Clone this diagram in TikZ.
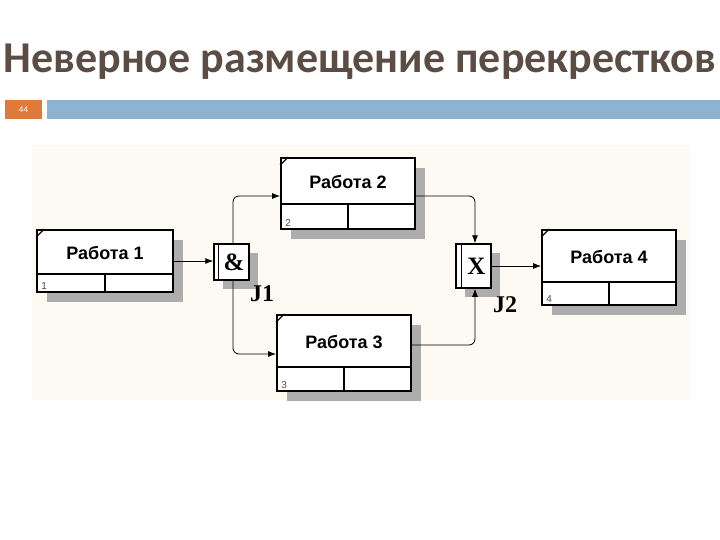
\documentclass[tikz,border=0pt]{standalone}
\usepackage{fontspec}
\setmainfont{Liberation Serif}
\newfontfamily\titlefont{Carlito}
\newfontfamily\boxfont{Liberation Sans}
\usetikzlibrary{arrows.meta, positioning, calc, shadows}
\definecolor{titlegray}{RGB}{92,76,70}
\definecolor{slideorange}{RGB}{224,122,58}
\definecolor{slideblue}{RGB}{141,179,211}
\definecolor{paper}{RGB}{253,250,243}
\tikzset{
    work/.style={
        draw,
        line width=1.8pt,
        fill=white,
        inner sep=0pt,
        general shadow={fill=black!32, shadow xshift=10pt, shadow yshift=-10pt}
    },
    junction/.style={
        draw,
        line width=1.5pt,
        fill=white,
        minimum width=35pt,
        inner sep=0pt,
        general shadow={fill=black!32, shadow xshift=9pt, shadow yshift=-9pt}
    },
    divider/.style={line width=1.8pt},
    worktitle/.style={font=\boxfont\bfseries\fontsize{18}{20}\selectfont},
    worknum/.style={font=\boxfont\fontsize{10}{11}\selectfont, text=black!70, inner sep=1pt},
    jsign/.style={font=\bfseries\fontsize{25}{26}\selectfont},
    jlabel/.style={font=\bfseries\fontsize{24}{26}\selectfont},
    line/.style={-{Latex[length=8pt, width=6pt]}, line width=0.8pt, rounded corners=6pt}
}
\begin{document}
\begin{tikzpicture}[x=1pt, y=-1pt]
\useasboundingbox[fill=white] (0,0) rectangle (720,540);

% slide header
\node[anchor=base, font=\titlefont\bfseries\fontsize{44}{46}\selectfont, text=titlegray] (title) at (360,73) {Неверное размещение перекрестков};
\node[fill=slideorange, minimum width=37pt, minimum height=19pt, inner sep=0pt, text=white, font=\titlefont\fontsize{9}{10}\selectfont] (page) at (23.5,109.5) {44};
\node[fill=slideblue, minimum width=673pt, minimum height=19pt, inner sep=0pt] (bar) at (383.5,109.5) {};

\fill[paper] (32,145) rectangle (690,400);

% works
\foreach \n/\cx/\cy/\bw/\bh/\bd in {1/105/261/136/62/19, 2/348/193.5/134/71/26, 3/344/353/134/76/25, 4/609/267.5/134/75/24}{
    \node[work, minimum width=\bw, minimum height=\bh] (w\n) at (\cx,\cy) {};
    \draw[divider] ($(w\n.south west)+(0,-\bd)$) -- ($(w\n.south east)+(0,-\bd)$);
    \draw[divider] (w\n.south) -- ++(0,-\bd);
    \draw[line width=1.2pt] ($(w\n.north west)+(0,8)$) -- ($(w\n.north west)+(8,0)$);
    \node[worktitle] at ($(w\n.north)+(0,{(\bh-\bd)/2+2})$) {Работа \n};
    \node[worknum, anchor=south west] at ($(w\n.south west)+(4,-2)$) {\n};
}

% junctions
\node[junction, minimum height=36pt] (j1) at (231.5,262) {};
\draw[line width=1pt] ($(j1.south west)+(5,0)$) -- ($(j1.north west)+(5,0)$);
\node[jsign] at ($(j1.center)+(2.5,0)$) {\&};
\node[jlabel] (j1lab) at (262,294) {J1};

\node[junction, minimum height=44pt] (j2) at (473.5,266) {};
\draw[line width=1pt] ($(j2.south west)+(6,0)$) -- ($(j2.north west)+(6,0)$);
\node[jsign] at ($(j2.center)+(3,0)$) {X};
\node[jlabel] (j2lab) at (505,305) {J2};

% links
\draw[line] (w1.east) -- (w1.east -| j1.west);
\draw[line] ([xshift=1.5pt]j1.north) |- ([yshift=-2.5pt]w2.west);
\draw[line] ([xshift=1.5pt]j1.south) |- ([yshift=-1pt]w3.west);
\draw[line] ([yshift=-2.5pt]w2.east) -| ([xshift=1.5pt]j2.north);
\draw[line] ([yshift=8pt]w3.east) -| ([xshift=1.5pt]j2.south);
\draw[line] (j2.east) -- (j2.east -| w4.west);
\end{tikzpicture}
\end{document}
